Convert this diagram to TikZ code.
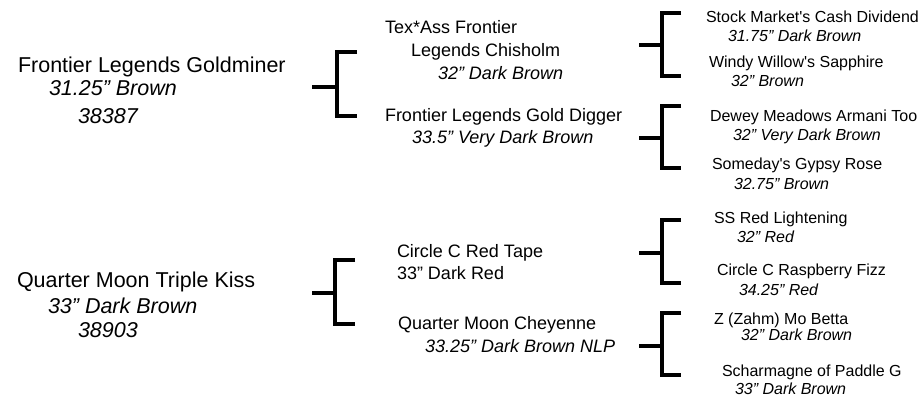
\documentclass[tikz,border=0pt]{standalone}
\usepackage{fontspec}
\setmainfont{Liberation Sans}[Ligatures=TeXOff]
\begin{document}
\begin{tikzpicture}[x=1pt,y=-1pt,
  every node/.style={inner sep=0pt,outer sep=0pt,anchor=mid west},
  la/.style={font=\fontsize{21.5}{21.5}\selectfont,yshift=-5pt},
  lai/.style={font=\fontsize{21.5}{21.5}\selectfont\itshape,yshift=-5pt},
  lb/.style={font=\fontsize{18}{18}\selectfont,yshift=-4.5pt},
  lbi/.style={font=\fontsize{18}{18}\selectfont\itshape,yshift=-4.5pt},
  lc/.style={font=\fontsize{16}{16}\selectfont,yshift=-4pt},
  lci/.style={font=\fontsize{16}{16}\selectfont\itshape,yshift=-4pt},
  br/.style={line width=4pt,line join=miter,line cap=butt}]
\useasboundingbox (0,0) rectangle (922,398);
% level 1
\node[la]  (g1)  at (18,65)  {Frontier Legends Goldminer};
\node[lai] (g1a) at (49,88)  {31.25” Brown};
\node[lai] (g1b) at (78,116) {38387};
\node[la]  (g2)  at (17,280) {Quarter Moon Triple Kiss};
\node[lai] (g2a) at (48,306) {33” Dark Brown};
\node[lai] (g2b) at (78,330) {38903};
% level 2
\node[lb]  (p1)  at (385,26)  {Tex*Ass Frontier};
\node[lb]  (p1b) at (411,49)  {Legends Chisholm};
\node[lbi] (p1c) at (438,72)  {32” Dark Brown};
\node[lb]  (p2)  at (385,114) {Frontier Legends Gold Digger};
\node[lbi] (p2b) at (412,136) {33.5” Very Dark Brown};
\node[lb]  (p3)  at (397,250) {Circle C Red Tape};
\node[lb]  (p3b) at (397,272) {33” Dark Red};
\node[lb]  (p4)  at (398,322) {Quarter Moon Cheyenne};
\node[lbi] (p4b) at (425,345) {33.25” Dark Brown NLP};
% level 3
\node[lc]  (q1)  at (706,16)  {Stock Market's Cash Dividend};
\node[lci] (q1b) at (728,35)  {31.75” Dark Brown};
\node[lc]  (q2)  at (709,61)  {Windy Willow's Sapphire};
\node[lci] (q2b) at (731,80)  {32” Brown};
\node[lc]  (q3)  at (710,115) {Dewey Meadows Armani Too};
\node[lci] (q3b) at (733,134) {32” Very Dark Brown};
\node[lc]  (q4)  at (712,163) {Someday's Gypsy Rose};
\node[lci] (q4b) at (734,183) {32.75” Brown};
\node[lc]  (q5)  at (714,217) {SS Red Lightening};
\node[lci] (q5b) at (737,236) {32” Red};
\node[lc]  (q6)  at (717,269) {Circle C Raspberry Fizz};
\node[lci] (q6b) at (739,289) {34.25” Red};
\node[lc]  (q7)  at (714,318) {Z (Zahm) Mo Betta};
\node[lci] (q7b) at (741,334) {32” Dark Brown};
\node[lc]  (q8)  at (722,370) {Scharmagne of Paddle G};
\node[lci] (q8b) at (735,388) {33” Dark Brown};
% bracket coordinates
\coordinate (b1s) at (312,87);  \coordinate (b1m) at (337,87);
\coordinate (b1t) at (357,52);  \coordinate (b1b) at (357,116);
\coordinate (b2s) at (312,293); \coordinate (b2m) at (335,293);
\coordinate (b2t) at (355,260); \coordinate (b2b) at (355,324);
\coordinate (bAs) at (639,45);  \coordinate (bAm) at (662,45);
\coordinate (bAt) at (681,13);  \coordinate (bAb) at (681,76);
\coordinate (bBs) at (639,138); \coordinate (bBm) at (662,138);
\coordinate (bBt) at (681,106); \coordinate (bBb) at (681,168);
\coordinate (bCs) at (639,253); \coordinate (bCm) at (662,253);
\coordinate (bCt) at (681,220); \coordinate (bCb) at (681,283);
\coordinate (bDs) at (639,346); \coordinate (bDm) at (662,346);
\coordinate (bDt) at (681,313); \coordinate (bDb) at (681,375);
\foreach \k in {1,2,A,B,C,D}{
  \draw[br] (b\k s) -- (b\k m);
  \draw[br] (b\k t) -| (b\k m) |- (b\k b);
}
\end{tikzpicture}
\end{document}
